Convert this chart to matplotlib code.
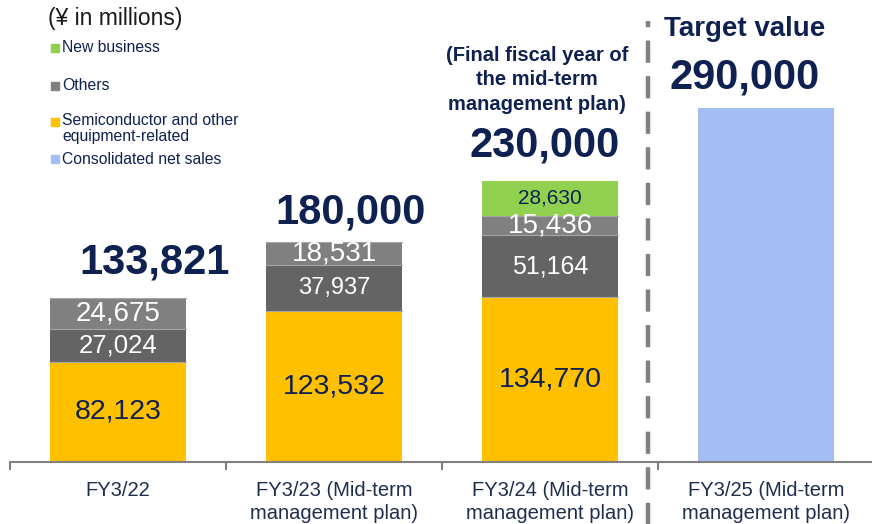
import matplotlib
matplotlib.use("Agg")
import matplotlib.pyplot as plt
from matplotlib.patches import Rectangle

plt.rcParams['font.family'] = ['Liberation Sans', 'DejaVu Sans']

categories = ["FY3/22", "FY3/23 (Mid-term\nmanagement plan)",
              "FY3/24 (Mid-term\nmanagement plan)", "FY3/25 (Mid-term\nmanagement plan)"]
semiconductor = [82123, 123532, 134770, 0]
others = [27024, 37937, 51164, 0]
others_top = [24675, 18531, 15436, 0]
new_business = [0, 0, 28630, 0]
consolidated = [0, 0, 0, 290000]
totals = [133821, 180000, 230000, 290000]
total_labels = ["133,821", "180,000", "230,000", "290,000"]

NAVY = '#0e2150'
YELLOW = '#FFC000'
DGRAY = '#646464'
LGRAY = '#808080'
GREEN = '#92D050'
BLUE = '#A4BEF3'

W, H = 872, 524
fig = plt.figure(figsize=(W / 100, H / 100), dpi=100)
ax = fig.add_axes([10 / W, 62 / H, 864 / W, 462 / H])
ax.set_xlim(-0.5, 3.5)
ax.set_ylim(0, 462 / (220 / 180000))

x = list(range(len(categories)))
bw = 0.63
ax.bar(x, semiconductor, bw, color=YELLOW, edgecolor='none')
bot2 = semiconductor
ax.bar(x, others, bw, bottom=bot2, color=DGRAY, edgecolor='none')
bot3 = [a + b for a, b in zip(bot2, others)]
ax.bar(x, others_top, bw, bottom=bot3, color=LGRAY, edgecolor='none')
bot4 = [a + b for a, b in zip(bot3, others_top)]
ax.bar(x, new_business, bw, bottom=bot4, color=GREEN, edgecolor='none')
ax.bar(x, consolidated, bw, color=BLUE, edgecolor='none')

# thin separators between segments
for i in range(3):
    for yv in (bot2[i], bot3[i], bot4[i]):
        ax.plot([i - bw / 2, i + bw / 2], [yv, yv], color='#a6a6a6', lw=0.8)

# segment labels
seg_sizes = {
    'semi': [20.5, 20.5, 20.5],
    'oth': [18.5, 17, 18],
    'top': [20, 20, 20],
}
for i in range(3):
    ax.text(i, semiconductor[i] / 2, f"{semiconductor[i]:,}", ha='center', va='center',
            fontsize=seg_sizes['semi'][i], color=NAVY)
    ax.text(i, bot2[i] + others[i] / 2, f"{others[i]:,}", ha='center', va='center',
            fontsize=seg_sizes['oth'][i], color='white')
    ax.text(i, bot3[i] + others_top[i] / 2, f"{others_top[i]:,}", ha='center', va='center',
            fontsize=seg_sizes['top'][i], color='white')
ax.text(2, bot4[2] + new_business[2] / 2, f"{new_business[2]:,}", ha='center', va='center',
        fontsize=15, color=NAVY)

# totals
offs = [(37, 36), (17, 29), (-5, 35), (-21, 30)]
for i, (t, lab) in enumerate(zip(totals, total_labels)):
    ax.annotate(lab, (i, t), xytext=offs[i], textcoords='offset pixels',
                ha='center', va='center', fontsize=30, fontweight='bold', color=NAVY)

ax.annotate("(Final fiscal year of\nthe mid-term\nmanagement plan)", (2, totals[2]),
            xytext=(-13, 101), textcoords='offset pixels', ha='center', va='center',
            fontsize=14.5, fontweight='bold', color=NAVY, linespacing=1.38)
ax.annotate("Target value", (3, totals[3]), xytext=(-21, 79), textcoords='offset pixels',
            ha='center', va='center', fontsize=20, fontweight='bold', color=NAVY)

# dashed separator
ax.axvline(2.454, ymin=-0.2, ymax=0.955, color=LGRAY, lw=3.2, ls=(0, (5, 3)), clip_on=False)

# axes styling
for s in ('left', 'right', 'top'):
    ax.spines[s].set_visible(False)
ax.spines['bottom'].set_color(LGRAY)
ax.spines['bottom'].set_linewidth(1.5)
ax.set_yticks([])
ax.set_xticks(x)
ax.set_xticklabels(categories, fontsize=14.5, color='#1f2d4f', linespacing=1.22)
ax.tick_params(axis='x', which='major', length=0, pad=14)
ax.set_xticks([-0.5, 0.5, 1.5, 2.5, 3.5], minor=True)
ax.tick_params(axis='x', which='minor', length=6, width=1.5, color=LGRAY, direction='out')

# title / unit
fig.text(48 / W, 1 - 18 / H, "(¥ in millions)", fontsize=16.5, color='#1a1a1a',
         ha='left', va='center')

# manual legend
legend_items = [
    ("New business", GREEN, 48),
    ("Others", LGRAY, 86),
    ("Semiconductor and other\nequipment-related", YELLOW, 122),
    ("Consolidated net sales", BLUE, 159),
]
for lab, col, yc in legend_items:
    fig.patches.append(Rectangle((51 / W, 1 - (yc + 4) / H), 8 / W, 8 / H,
                                 transform=fig.transFigure, color=col))
    if '\n' in lab:
        fig.text(62 / W, 1 - (yc - 9) / H, lab, fontsize=11.3, color=NAVY, ha='left',
                 va='top', linespacing=1.1)
    else:
        fig.text(62 / W, 1 - yc / H, lab, fontsize=11.3, color=NAVY, ha='left', va='center')

fig.savefig("out.png", dpi=100)
